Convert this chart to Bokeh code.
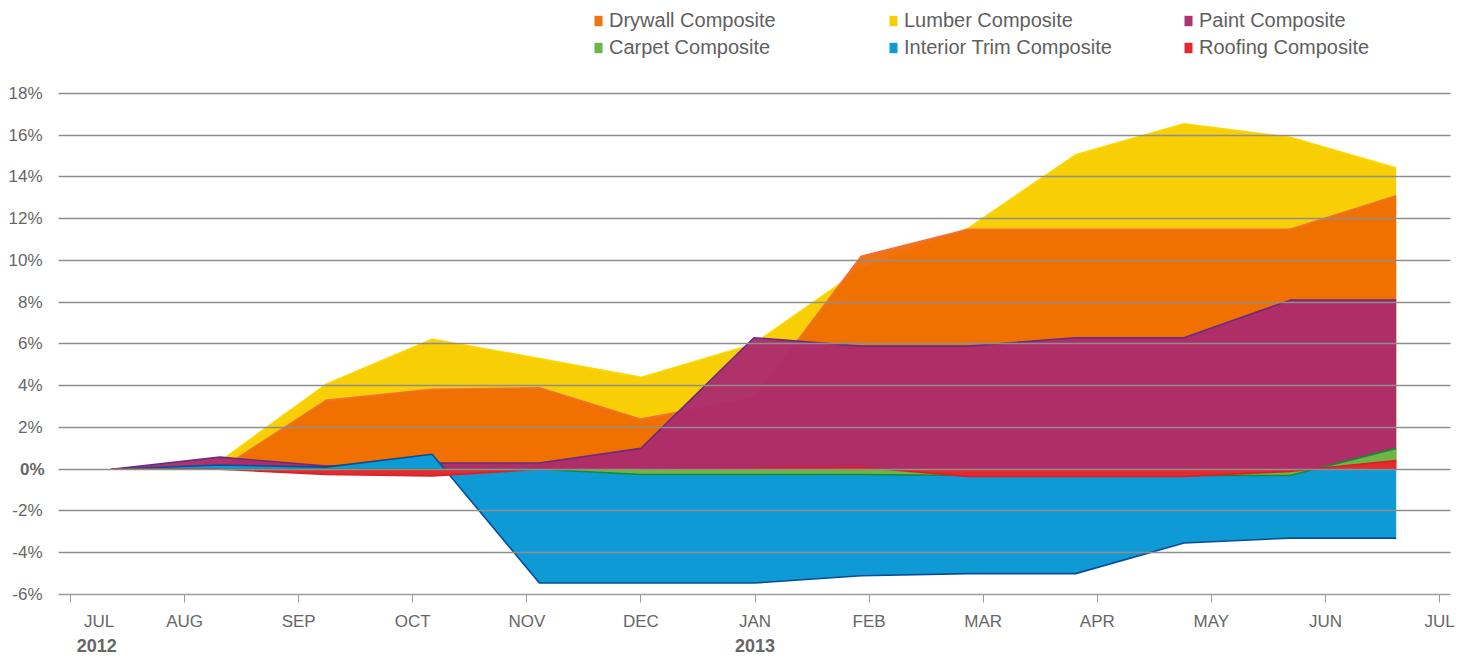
from bokeh.plotting import figure
from bokeh.models import Range1d, FixedTicker, Legend, LegendItem, LinearAxis
from bokeh.embed import file_html
from bokeh.resources import INLINE

# ---- data -------------------------------------------------------------
month_labels = ["JUL", "AUG", "SEP", "OCT", "NOV", "DEC", "JAN",
                "FEB", "MAR", "APR", "MAY", "JUN", "JUL"]
month_ticks = list(range(13))                        # tick marks at month starts
month_label_pos = [0.25, 1, 2, 3, 4, 5, 6, 7, 8, 9, 10, 11, 12]
year_labels = ["2012", "2013"]
year_label_pos = [0.23, 6]
y_ticks = [-6, -4, -2, 0, 2, 4, 6, 8, 10, 12, 14, 16, 18]

# observation positions, in months after the JUL 2012 tick
x = [0.36, 1.31, 2.24, 3.17, 4.11, 5.00, 5.99, 6.93, 7.87, 8.81, 9.76, 10.69, 11.62]

lumber   = [0.0, 0.38, 4.07, 6.23, 5.30, 4.40, 6.00, 9.60, 11.55, 15.06, 16.55, 15.90, 14.43]
drywall  = [0.0, 0.00, 3.30, 3.83, 3.90, 2.40, 3.40, 10.20, 11.50, 11.50, 11.50, 11.50, 13.10]
paint    = [0.0, 0.58, 0.15, 0.30, 0.30, 1.00, 6.30, 5.90, 5.90, 6.30, 6.30, 8.10, 8.10]
trim     = [0.0, 0.20, 0.10, 0.72, -5.45, -5.45, -5.45, -5.10, -5.00, -5.00, -3.53, -3.30, -3.30]
carpet   = [0.0, 0.00, 0.00, 0.00, 0.00, -0.25, -0.25, -0.25, -0.30, -0.30, -0.30, -0.30, 1.00]
roofing  = [0.0, 0.00, -0.25, -0.32, 0.00, 0.00, 0.05, 0.10, -0.35, -0.35, -0.35, -0.10, 0.42]

series = [
    # name, values, fill, line, alpha
    ("Lumber Composite", lumber, "#F8CE04", "#FBD800", 1.0),
    ("Drywall Composite", drywall, "#EF6A00", "#F2703A", 0.94),
    ("Paint Composite", paint, "#AC2C6B", "#6B2A86", 0.97),
    ("Interior Trim Composite", trim, "#0E9AD5", "#0B4C97", 1.0),
    ("Carpet Composite", carpet, "#6DB544", "#118C3C", 1.0),
    ("Roofing Composite", roofing, "#E32A2E", "#D9202A", 1.0),
]

FONT = "Liberation Sans"
TXT = "#666666"
AXC = "#9b9b9b"

W, H = 1469, 657
x_start, x_end = -0.105, 12.096
y_start, y_end = -6, 22.455          # headroom above 18% holds the legend
p = figure(width=W, height=H, output_backend="svg", toolbar_location=None,
           x_range=Range1d(x_start, x_end), y_range=Range1d(y_start, y_end),
           min_border_left=58, min_border_right=19, min_border_top=0,
           min_border_bottom=63, background_fill_color="white",
           border_fill_color="white")
p.outline_line_color = None

renderers = {}
for name, vals, fill, line, alpha in series:
    r = p.varea(x=x, y1=0, y2=vals, fill_color=fill, fill_alpha=alpha)
    p.line(x=x, y=vals, line_color=line, line_width=1.6)
    renderers[name] = r

# ---- grid ----------------------------------------------------------------
p.xgrid.visible = False
p.ygrid.ticker = FixedTicker(ticks=y_ticks)
p.ygrid.grid_line_color = "#8e8e8e"
p.ygrid.grid_line_width = 1.5
p.ygrid.level = "guide"

# ---- y axis (0% drawn bold by a second axis) -------------------------------
p.yaxis.ticker = FixedTicker(ticks=y_ticks)
p.yaxis.major_label_overrides = {t: ("" if t == 0 else f"{t}%") for t in y_ticks}
p.yaxis.axis_line_color = None
p.yaxis.major_tick_line_color = None
p.yaxis.minor_tick_line_color = None
p.yaxis.major_tick_out = 0
p.yaxis.major_tick_in = 0
p.yaxis.major_label_standoff = 16
p.yaxis.major_label_text_font = FONT
p.yaxis.major_label_text_font_size = "17px"
p.yaxis.major_label_text_color = TXT

zero_axis = LinearAxis(ticker=FixedTicker(ticks=[0]), major_label_overrides={0: "0%"},
                       axis_line_color=None, major_tick_line_color=None,
                       minor_tick_line_color=None, major_tick_out=0, major_tick_in=0,
                       major_label_standoff=-39, major_label_text_font=FONT,
                       major_label_text_font_size="17px", major_label_text_font_style="bold",
                       major_label_text_color=TXT)
p.add_layout(zero_axis, "left")

# ---- x axis: tick marks at month starts, labels at label positions ------------
p.xaxis.ticker = FixedTicker(ticks=month_label_pos, minor_ticks=month_ticks)
p.xaxis.major_label_overrides = dict(zip(month_label_pos, month_labels))
p.xaxis.axis_line_color = AXC
p.xaxis.axis_line_width = 1.5
p.xaxis.major_tick_line_color = None
p.xaxis.major_tick_out = 8
p.xaxis.major_tick_in = 0
p.xaxis.minor_tick_line_color = AXC
p.xaxis.minor_tick_line_width = 1
p.xaxis.minor_tick_out = 8
p.xaxis.minor_tick_in = 0
p.xaxis.major_label_standoff = 9
p.xaxis.major_label_text_font = FONT
p.xaxis.major_label_text_font_size = "17px"
p.xaxis.major_label_text_color = TXT

year_axis = LinearAxis(ticker=FixedTicker(ticks=year_label_pos),
                       major_label_overrides=dict(zip(year_label_pos, year_labels)),
                       axis_line_color=None, major_tick_line_color=None,
                       minor_tick_line_color=None, major_tick_out=0, major_tick_in=0,
                       major_label_standoff=5, major_label_text_font=FONT,
                       major_label_text_font_size="18px", major_label_text_font_style="bold",
                       major_label_text_color=TXT)
p.add_layout(year_axis, "below")

# ---- legend ----------------------------------------------------------------
legend_order = ["Drywall Composite", "Lumber Composite", "Paint Composite",
                "Carpet Composite", "Interior Trim Composite", "Roofing Composite"]
legend = Legend(items=[LegendItem(label=n, renderers=[renderers[n]]) for n in legend_order],
                orientation="horizontal", ncols=3, location=(535, 535),
                padding=0, margin=0, spacing=4, label_width=275, label_height=22,
                glyph_width=10, glyph_height=13, label_standoff=6,
                label_text_font=FONT, label_text_font_size="20px",
                label_text_color="#5f5f5f", border_line_color=None,
                background_fill_alpha=0)
p.add_layout(legend)

open("out.html", "w").write(file_html(p, INLINE))
